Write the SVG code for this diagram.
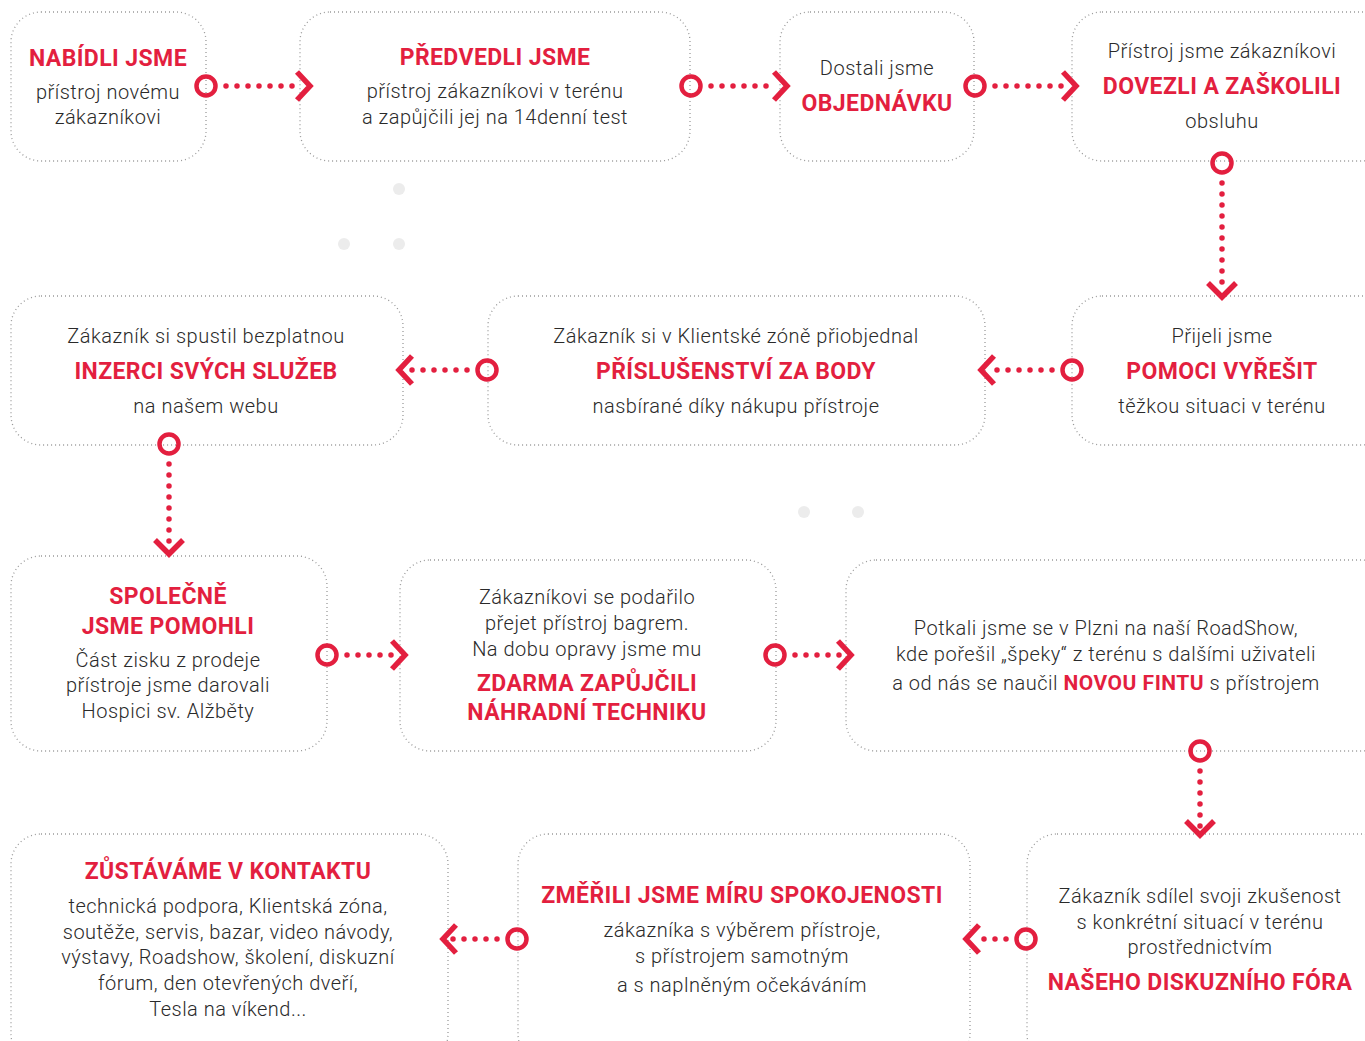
<svg xmlns="http://www.w3.org/2000/svg" width="1365" height="1041" viewBox="0 0 1365 1041">
<style>
.box{fill:#fff;stroke:#9a9a9a;stroke-width:1.3;stroke-dasharray:1 3}
.t{font-family:Roboto,"Noto Sans","Liberation Sans",sans-serif;font-size:20px;fill:#2a2a2a;text-anchor:middle;font-weight:300;letter-spacing:0.5px}
.h{font-family:Roboto,"Liberation Sans",sans-serif;font-size:23px;fill:#e31f3f;font-weight:700;text-anchor:middle;letter-spacing:0.4px}
.hb{fill:#e31f3f;font-weight:700;font-size:21px}
.ring{fill:none;stroke:#e31f3f;stroke-width:4.5}
.dots{stroke:#e31f3f;stroke-width:5.5;stroke-linecap:round;stroke-dasharray:0 11}
.chev{fill:none;stroke:#e31f3f;stroke-width:5.5}
.g{fill:#ececec}
</style>
<rect width="1365" height="1041" fill="#fff"/>
<g id="bgdots">
<circle class="g" cx="399" cy="189" r="6"/><circle class="g" cx="344" cy="244" r="6"/><circle class="g" cx="399" cy="244" r="6"/>
<circle class="g" cx="804" cy="512" r="6"/><circle class="g" cx="858" cy="512" r="6"/>
</g>
<g id="n1"><rect class="box" x="11" y="12" width="195" height="149" rx="30"/>
<text class="h" x="108" y="66">NABÍDLI JSME</text>
<text class="t" x="108" y="99">přístroj novému</text><text class="t" x="108" y="124">zákazníkovi</text></g>
<g id="n2"><rect class="box" x="300" y="12" width="390" height="149" rx="30"/>
<text class="h" x="495" y="65">PŘEDVEDLI JSME</text>
<text class="t" x="495" y="98">přístroj zákazníkovi v terénu</text><text class="t" x="495" y="124">a zapůjčili jej na 14denní test</text></g>
<g id="n3"><rect class="box" x="780" y="12" width="194" height="149" rx="30"/>
<text class="t" x="877" y="75">Dostali jsme</text>
<text class="h" x="877" y="111">OBJEDNÁVKU</text></g>
<g id="n4"><rect class="box" x="1072" y="12" width="320" height="149" rx="30"/>
<text class="t" x="1222" y="58">Přístroj jsme zákazníkovi</text>
<text class="h" x="1222" y="94">DOVEZLI A ZAŠKOLILI</text>
<text class="t" x="1222" y="128">obsluhu</text></g>
<g id="n5"><rect class="box" x="1072" y="296" width="320" height="149" rx="30"/>
<text class="t" x="1222" y="343">Přijeli jsme</text>
<text class="h" x="1222" y="379">POMOCI VYŘEŠIT</text>
<text class="t" x="1222" y="413">těžkou situaci v terénu</text></g>
<g id="n6"><rect class="box" x="488" y="296" width="497" height="149" rx="30"/>
<text class="t" x="736" y="343">Zákazník si v Klientské zóně přiobjednal</text>
<text class="h" x="736" y="379">PŘÍSLUŠENSTVÍ ZA BODY</text>
<text class="t" x="736" y="413">nasbírané díky nákupu přístroje</text></g>
<g id="n7"><rect class="box" x="11" y="296" width="392" height="149" rx="30"/>
<text class="t" x="206" y="343">Zákazník si spustil bezplatnou</text>
<text class="h" x="206" y="379">INZERCI SVÝCH SLUŽEB</text>
<text class="t" x="206" y="413">na našem webu</text></g>
<g id="n8"><rect class="box" x="11" y="556" width="316" height="195" rx="30"/>
<text class="h" x="168" y="604">SPOLEČNĚ</text><text class="h" x="168" y="634">JSME POMOHLI</text>
<text class="t" x="168" y="667">Část zisku z prodeje</text><text class="t" x="168" y="692">přístroje jsme darovali</text><text class="t" x="168" y="718">Hospici sv. Alžběty</text></g>
<g id="n9"><rect class="box" x="400" y="560" width="376" height="191" rx="30"/>
<text class="t" x="587" y="604">Zákazníkovi se podařilo</text><text class="t" x="587" y="630">přejet přístroj bagrem.</text><text class="t" x="587" y="656">Na dobu opravy jsme mu</text>
<text class="h" x="587" y="691">ZDARMA ZAPŮJČILI</text><text class="h" x="587" y="720">NÁHRADNÍ TECHNIKU</text></g>
<g id="n10"><rect class="box" x="846" y="560" width="546" height="191" rx="30"/>
<text class="t" x="1106" y="635">Potkali jsme se v Plzni na naší RoadShow,</text>
<text class="t" x="1106" y="661">kde pořešil „špeky“ z terénu s dalšími uživateli</text>
<text class="t" x="1106" y="690">a od nás se naučil <tspan class="hb">NOVOU FINTU</tspan> s přístrojem</text></g>
<g id="n11"><rect class="box" x="1027" y="834" width="365" height="230" rx="30"/>
<text class="t" x="1200" y="903">Zákazník sdílel svoji zkušenost</text><text class="t" x="1200" y="929">s konkrétní situací v terénu</text><text class="t" x="1200" y="954">prostřednictvím</text>
<text class="h" x="1200" y="990">NAŠEHO DISKUZNÍHO FÓRA</text></g>
<g id="n12"><rect class="box" x="518" y="834" width="452" height="230" rx="30"/>
<text class="h" x="742" y="903">ZMĚŘILI JSME MÍRU SPOKOJENOSTI</text>
<text class="t" x="742" y="937">zákazníka s výběrem přístroje,</text><text class="t" x="742" y="963">s přístrojem samotným</text><text class="t" x="742" y="992">a s naplněným očekáváním</text></g>
<g id="n13"><rect class="box" x="11" y="834" width="437" height="230" rx="30"/>
<text class="h" x="228" y="879">ZŮSTÁVÁME V KONTAKTU</text>
<text class="t" x="228" y="913">technická podpora, Klientská zóna,</text><text class="t" x="228" y="939">soutěže, servis, bazar, video návody,</text><text class="t" x="228" y="964">výstavy, Roadshow, školení, diskuzní</text><text class="t" x="228" y="990">fórum, den otevřených dveří,</text><text class="t" x="228" y="1016">Tesla na víkend...</text></g>
<g id="connectors">
<circle class="ring" cx="206" cy="86" r="9.5"/><line class="dots" x1="226" y1="86" x2="300" y2="86"/><polyline class="chev" points="297,72 310,86 297,100"/>
<circle class="ring" cx="691" cy="86" r="9.5"/><line class="dots" x1="711" y1="86" x2="777" y2="86"/><polyline class="chev" points="774,72 787,86 774,100"/>
<circle class="ring" cx="975" cy="86" r="9.5"/><line class="dots" x1="995" y1="86" x2="1066" y2="86"/><polyline class="chev" points="1063,72 1076,86 1063,100"/>
<circle class="ring" cx="1222" cy="163" r="9.5"/><line class="dots" x1="1222" y1="183" x2="1222" y2="290"/><polyline class="chev" points="1208,283 1222,297 1236,283"/>
<circle class="ring" cx="1072" cy="370" r="9.5"/><line class="dots" x1="1052" y1="370" x2="990" y2="370"/><polyline class="chev" points="994,356 981,370 994,384"/>
<circle class="ring" cx="487" cy="370" r="9.5"/><line class="dots" x1="467" y1="370" x2="408" y2="370"/><polyline class="chev" points="412,356 399,370 412,384"/>
<circle class="ring" cx="169" cy="444" r="9.5"/><line class="dots" x1="169" y1="464" x2="169" y2="548"/><polyline class="chev" points="155,540 169,554 183,540"/>
<circle class="ring" cx="327" cy="655" r="9.5"/><line class="dots" x1="347" y1="655" x2="396" y2="655"/><polyline class="chev" points="392,641 405,655 392,669"/>
<circle class="ring" cx="775" cy="655" r="9.5"/><line class="dots" x1="795" y1="655" x2="842" y2="655"/><polyline class="chev" points="838,641 851,655 838,669"/>
<circle class="ring" cx="1200" cy="751" r="9.5"/><line class="dots" x1="1200" y1="771" x2="1200" y2="828"/><polyline class="chev" points="1186,821 1200,835 1214,821"/>
<circle class="ring" cx="1026" cy="939" r="9.5"/><line class="dots" x1="1006" y1="939" x2="974" y2="939"/><polyline class="chev" points="979,925 966,939 979,953"/>
<circle class="ring" cx="517" cy="939" r="9.5"/><line class="dots" x1="497" y1="939" x2="452" y2="939"/><polyline class="chev" points="456,925 443,939 456,953"/>
</g>
</svg>
